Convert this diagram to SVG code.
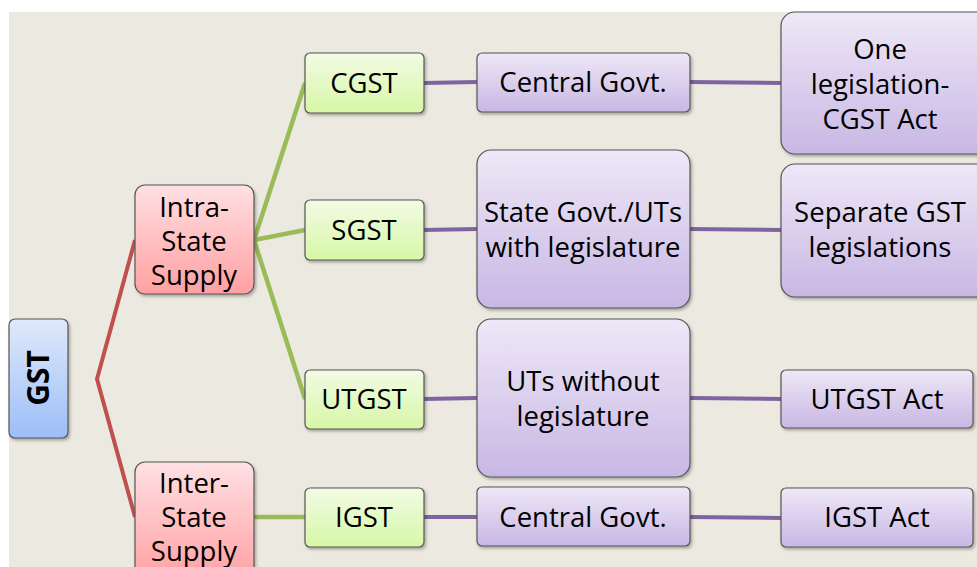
<svg xmlns="http://www.w3.org/2000/svg" width="977" height="567" viewBox="0 0 977 567">
<defs>
<linearGradient id="gBlue" x1="0" y1="0" x2="0" y2="1"><stop offset="0" stop-color="#E0E9FA"/><stop offset="1" stop-color="#9CBEF7"/></linearGradient>
<linearGradient id="gRed" x1="0" y1="0" x2="0" y2="1"><stop offset="0" stop-color="#FFE0E3"/><stop offset="1" stop-color="#FFA0A2"/></linearGradient>
<linearGradient id="gGreen" x1="0" y1="0" x2="0" y2="1"><stop offset="0" stop-color="#F2FBE4"/><stop offset="1" stop-color="#D7F7A6"/></linearGradient>
<linearGradient id="gPurple" x1="0" y1="0" x2="0" y2="1"><stop offset="0" stop-color="#EEE8F7"/><stop offset="1" stop-color="#C8B7E4"/></linearGradient>
<filter id="sh" x="-10%" y="-10%" width="130%" height="130%"><feDropShadow dx="1.5" dy="2" stdDeviation="1.5" flood-color="#000" flood-opacity="0.3"/></filter>
</defs>
<style>
.box{stroke:#555;stroke-width:1.2;filter:url(#sh)}
.b{fill:url(#gBlue)}.r{fill:url(#gRed)}.g{fill:url(#gGreen)}.p{fill:url(#gPurple)}
text{font-family:"Open Sans","Noto Sans","DejaVu Sans",sans-serif;font-size:27.5px;fill:#000;text-anchor:middle}
.red{stroke:#C0504D;stroke-width:4;fill:none}
.grn{stroke:#9BBB59;stroke-width:4.5;fill:none}
.pur{stroke:#8064A2;stroke-width:4;fill:none}
</style>
<rect x="0" y="0" width="977" height="567" fill="#FFFFFF"/>
<rect x="9" y="12" width="968" height="555" fill="#ECE9E0"/>
<g id="connectors">
<polyline class="red" points="135,240 97,379 135,517"/>
<line class="grn" x1="254" y1="240" x2="305" y2="83"/>
<line class="grn" x1="254" y1="240" x2="305" y2="230"/>
<line class="grn" x1="254" y1="240" x2="305" y2="399"/>
<line class="grn" x1="254" y1="517" x2="305" y2="517"/>
<line class="pur" x1="424" y1="83" x2="477" y2="82"/>
<line class="pur" x1="690" y1="82" x2="781" y2="83"/>
<line class="pur" x1="424" y1="230" x2="477" y2="229"/>
<line class="pur" x1="690" y1="229" x2="781" y2="230"/>
<line class="pur" x1="424" y1="399" x2="477" y2="398"/>
<line class="pur" x1="690" y1="398" x2="781" y2="399"/>
<line class="pur" x1="424" y1="517" x2="477" y2="517"/>
<line class="pur" x1="690" y1="517" x2="781" y2="518"/>
</g>
<g id="gst">
<rect class="box b" x="9" y="319" width="59" height="119" rx="6"/>
<text transform="translate(49,378) rotate(-90)" style="font-weight:bold;font-size:30px">GST</text>
</g>
<g id="intra">
<rect class="box r" x="135" y="185" width="119" height="109" rx="10"/>
<text x="194" y="217">Intra-</text>
<text x="194" y="251">State</text>
<text x="194" y="285">Supply</text>
</g>
<g id="inter">
<rect class="box r" x="135" y="462" width="119" height="120" rx="10"/>
<text x="194" y="493">Inter-</text>
<text x="194" y="527">State</text>
<text x="194" y="561">Supply</text>
</g>
<g id="cgst">
<rect class="box g" x="305" y="53" width="119" height="60" rx="5"/>
<text x="364" y="93">CGST</text>
</g>
<g id="sgst">
<rect class="box g" x="305" y="200" width="119" height="60" rx="5"/>
<text x="364" y="240">SGST</text>
</g>
<g id="utgst">
<rect class="box g" x="305" y="370" width="119" height="59" rx="5"/>
<text x="364" y="409">UTGST</text>
</g>
<g id="igst">
<rect class="box g" x="305" y="488" width="119" height="59" rx="5"/>
<text x="364" y="527">IGST</text>
</g>
<g id="central1">
<rect class="box p" x="477" y="53" width="213" height="59" rx="5"/>
<text x="583" y="92">Central Govt.</text>
</g>
<g id="stategovt">
<rect class="box p" x="477" y="150" width="213" height="158" rx="14"/>
<text x="583" y="222">State Govt./UTs</text>
<text x="583" y="257">with legislature</text>
</g>
<g id="utswithout">
<rect class="box p" x="477" y="319" width="213" height="158" rx="14"/>
<text x="583" y="391">UTs without</text>
<text x="583" y="426">legislature</text>
</g>
<g id="central2">
<rect class="box p" x="477" y="487" width="213" height="59" rx="5"/>
<text x="583" y="527">Central Govt.</text>
</g>
<g id="onelegis">
<rect class="box p" x="781" y="12" width="210" height="142" rx="14"/>
<text x="880" y="59">One</text>
<text x="880" y="94">legislation-</text>
<text x="880" y="129">CGST Act</text>
</g>
<g id="separate">
<rect class="box p" x="781" y="164" width="210" height="133" rx="14"/>
<text x="880" y="222">Separate GST</text>
<text x="880" y="257">legislations</text>
</g>
<g id="utgstact">
<rect class="box p" x="781" y="370" width="192" height="58" rx="5"/>
<text x="877" y="409">UTGST Act</text>
</g>
<g id="igstact">
<rect class="box p" x="781" y="488" width="192" height="59" rx="5"/>
<text x="877" y="527">IGST Act</text>
</g>
</svg>
